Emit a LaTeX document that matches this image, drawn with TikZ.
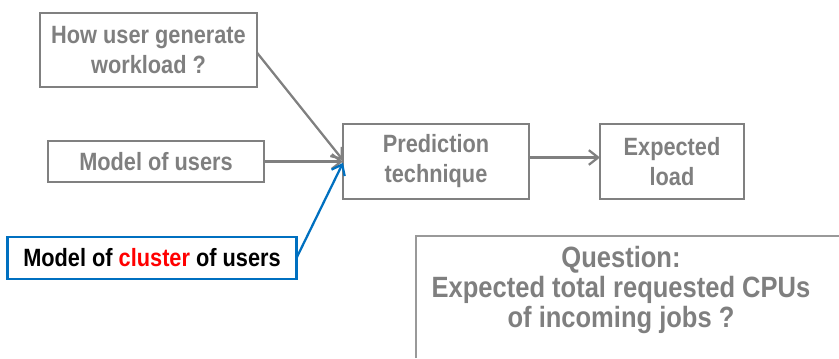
\documentclass[tikz,border=0pt]{standalone}
\usepackage{fontspec}
\setmainfont{Liberation Sans}[FakeStretch=0.87]
\usetikzlibrary{arrows.meta}
\definecolor{gtxt}{HTML}{7F7F7F}
\definecolor{gline}{HTML}{808080}
\definecolor{bline}{HTML}{0070C0}
\definecolor{rtxt}{HTML}{FF0000}
\tikzset{
  box/.style={draw=gline, line width=2pt, text=gtxt, font=\fontsize{18.75}{22.5}\selectfont\bfseries, align=center, inner sep=0pt, outer sep=0pt},
  conn/.style={draw=gline, line width=1.7pt, -{Straight Barb[length=7pt,width=11pt,line width=1.7pt]}},
}
\begin{document}
\begin{tikzpicture}[x=0.75pt,y=-0.75pt]
\useasboundingbox (0,0) rectangle (839,358);
\node[box, minimum width=217*0.75pt, minimum height=74*0.75pt] (b1) at (148.5,50) {How user generate\\workload ?};
\node[box, minimum width=216*0.75pt, minimum height=41*0.75pt] (b2) at (156,161.5) {Model of users};
\node[box, draw=bline, text=black, minimum width=289*0.75pt, minimum height=42*0.75pt] (b3) at (152,258) {Model of \textcolor{rtxt}{cluster} of users};
\node[box, minimum width=186*0.75pt, minimum height=75*0.75pt] (p) at (436,161.5) {Prediction\\technique};
\node[box, minimum width=144*0.75pt, minimum height=75*0.75pt] (e) at (672,161.5) {Expected\\load};
\node[box, draw=none, font=\fontsize{22}{22.5}\selectfont\bfseries] (q) at (621,290) {Question:\\Expected total requested CPUs\\of incoming jobs ?};
\coordinate (qbl) at (416,358);
\coordinate (qtr) at (839,236);
\draw[draw=gline!80, line width=1.4pt] (qbl) |- (qtr);
\draw[conn] ([yshift=-2pt]b1.east) -- ([yshift=1pt]p.west);
\draw[conn] (b2.east) -- (p.west);
\draw[conn, draw=bline, -{Straight Barb[length=7pt,width=11pt,line width=1.7pt]}] (b3.east) -- ([yshift=-1pt]p.west);
\draw[conn] ([yshift=3pt]p.east) -- ([yshift=3pt]e.west);
\end{tikzpicture}
\end{document}
